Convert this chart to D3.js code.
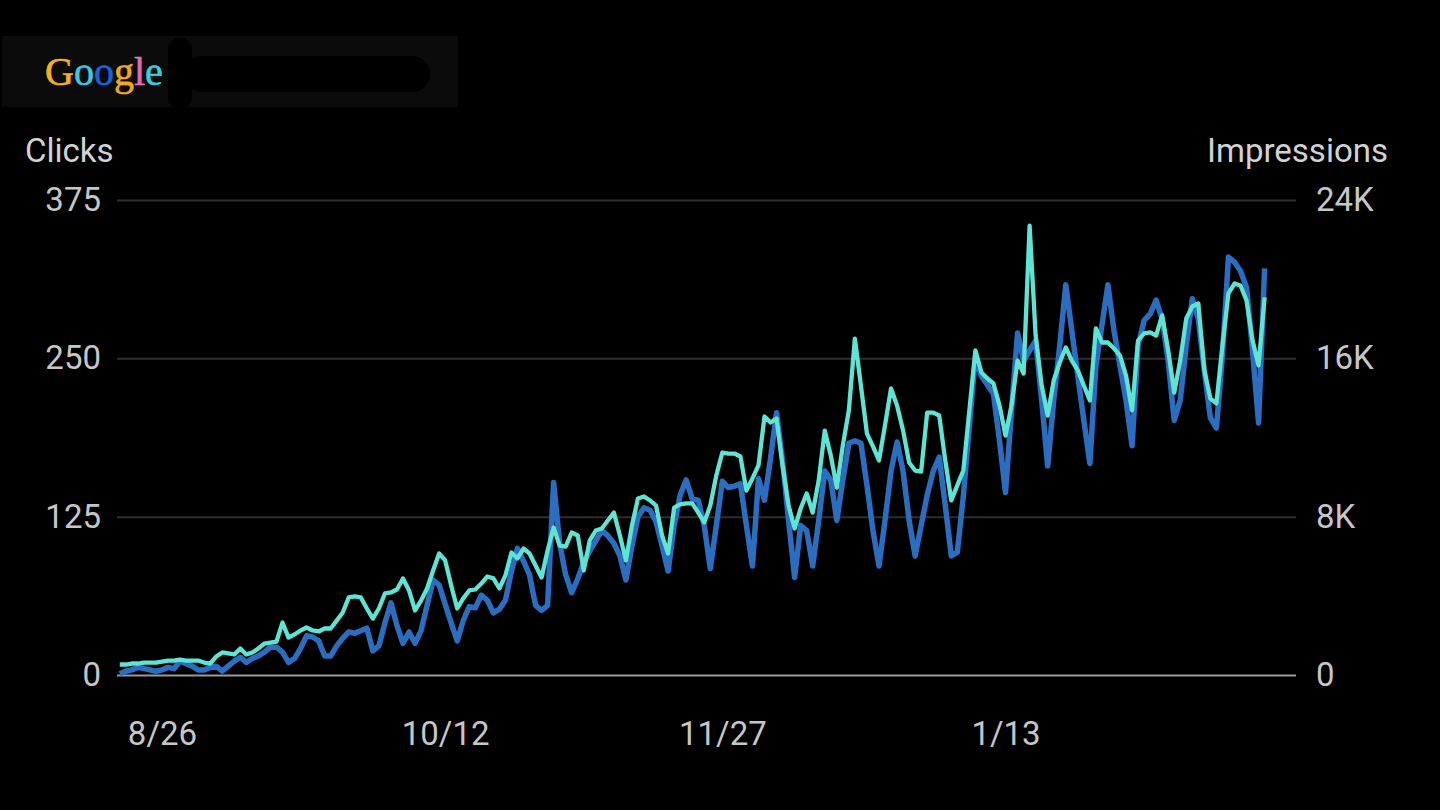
<!DOCTYPE html>
<html><head><meta charset="utf-8">
<script src="https://cdn.jsdelivr.net/npm/d3@7"></script>
<style>html,body{margin:0;padding:0;background:#000;overflow:hidden}</style>
</head><body><svg id="c" width="1440" height="810"></svg>
<script>
const startDate = "2017-08-19";
const clicks = [
1,3,4,6,5,4,3,4,6,5,
11,9,7,4,4,6,7,3,7,11,
14,10,13,15,18,22,22,18,10,13,
21,31,30,27,15,15,23,29,34,33,
35,37,19,23,41,57,39,25,34,25,
35,55,75,71,56,41,27,43,54,53,
63,59,49,52,59,82,100,90,79,55,
51,55,152,104,79,65,76,89,98,106,
114,110,104,94,75,102,125,132,130,121,
102,82,118,142,154,139,138,118,84,118,
153,148,149,151,118,86,155,138,171,207,
169,122,77,118,114,86,122,161,154,122,
154,183,185,183,150,114,86,122,161,184,
161,122,94,118,142,161,172,134,94,97,
141,197,251,236,229,222,185,144,209,270,
248,256,264,217,165,217,260,308,272,236,
201,167,244,276,308,272,244,217,181,260,
280,285,296,281,248,201,217,260,297,281,
240,203,195,252,330,326,319,306,256,199,
321];
const impressions = [
530,530,580,580,630,630,630,680,730,730,
780,730,730,730,630,580,930,1140,1090,1040,
1340,1040,1140,1340,1590,1640,1690,2650,1890,2050,
2250,2400,2250,2200,2350,2350,2750,3160,3920,3970,
3920,3360,2850,3360,4120,4170,4320,4880,4270,3260,
3760,4370,5280,6140,5790,4520,3360,3870,4270,4320,
4620,4980,4880,4370,5030,6190,5890,6390,6140,5530,
4930,6290,7450,6540,6490,7200,7050,5280,6800,7300,
7400,7810,8210,7050,5790,7550,8920,9020,8820,8560,
7050,6140,8460,8620,8670,8670,8210,7710,8560,10080,
11240,11190,11190,11040,9320,9930,10590,13060,12760,12960,
10590,8560,7400,8410,9170,8210,9830,12350,11090,9470,
11600,13370,17000,14630,12200,11550,10840,12610,14480,13620,
12350,10740,10330,10280,13260,13260,13110,10840,8820,9580,
10330,13370,16400,15290,14980,14730,13620,12100,13620,15890,
15230,22710,17150,14630,13110,14880,15790,16550,15890,15390,
14630,13870,17510,16800,16800,16500,16140,15130,13370,16900,
17260,17310,17150,18170,16400,14270,15890,18010,18620,18770,
15390,13970,13720,16650,19280,19780,19680,18920,16900,15640,
19080];
const clickTicks = [0, 125, 250, 375];
const impressionTicks = [0, 8000, 16000, 24000];
const impressionTickLabels = ["0", "8K", "16K", "24K"];
const dateTicks = ["2017-08-26", "2017-10-12", "2017-11-27", "2018-01-13"];
const dateTickLabels = ["8/26", "10/12", "11/27", "1/13"];
const logoLetters = ["G", "o", "o", "g", "l", "e"];
const logoColors = ["#f4b21c", "#3cc8e2", "#1b62de", "#f2a91a", "#e36bb0", "#3ccde0"];

const parse = d3.utcParse("%Y-%m-%d");
const t0 = parse(startDate);
const dates = clicks.map((_, i) => d3.utcDay.offset(t0, i));

const svg = d3.select("#c");
const L = 117, R = 1296, T = 200, B = 675;
const FONT = "Roboto, 'Noto Sans', sans-serif";

const x = d3.scaleUtc().domain([t0, dates[dates.length - 1]]).range([119.8, 1264.6]);
const y = d3.scaleLinear().domain([0, 375]).range([B, T]);
const yR = d3.scaleLinear().domain([0, 24000]).range([B, T]);

svg.append("rect").attr("width", 1440).attr("height", 810).attr("fill", "#000");

// header box with logo
const hdr = svg.append("g");
hdr.append("rect").attr("x", 2).attr("y", 36).attr("width", 456).attr("height", 71).attr("fill", "#0b0b0b");
hdr.append("rect").attr("x", 168).attr("y", 38).attr("width", 24).attr("height", 70).attr("rx", 11).attr("fill", "#000");
hdr.append("rect").attr("x", 184).attr("y", 56).attr("width", 246).attr("height", 36).attr("rx", 18).attr("fill", "#000");
const logo = hdr.append("text").attr("x", 45).attr("y", 85)
  .attr("font-family", "'Liberation Serif', 'DejaVu Serif', serif").attr("font-size", 40);
logo.selectAll("tspan").data(logoLetters).join("tspan")
  .text(d => d).attr("fill", (d, i) => logoColors[i])
  .attr("stroke", (d, i) => logoColors[i]).attr("stroke-width", 0.6);

// titles
svg.append("text").attr("x", 25).attr("y", 162).text("Clicks")
  .attr("font-family", FONT).attr("font-size", 33).attr("fill", "#d2d2d2");
svg.append("text").attr("x", 1388).attr("y", 162).attr("text-anchor", "end").text("Impressions")
  .attr("font-family", FONT).attr("font-size", 33).attr("fill", "#d2d2d2");

// left axis + grid
const gl = svg.append("g").attr("transform", `translate(${L},0)`)
  .call(d3.axisLeft(y).tickValues(clickTicks).tickSize(-(R - L)).tickPadding(16));
gl.select(".domain").remove();
gl.selectAll(".tick line").attr("stroke", d => d === 0 ? "#9a9a9a" : "#2e2e2e").attr("stroke-width", 2);
gl.selectAll(".tick text").attr("font-family", FONT).attr("font-size", 33).attr("fill", "#c6c6c6");

// right axis
const gr = svg.append("g").attr("transform", `translate(${R},0)`)
  .call(d3.axisRight(yR).tickValues(impressionTicks).tickFormat((d, i) => impressionTickLabels[i]).tickSize(0).tickPadding(20));
gr.select(".domain").remove();
gr.selectAll(".tick text").attr("font-family", FONT).attr("font-size", 33).attr("fill", "#c6c6c6");

// bottom axis
const gb = svg.append("g").attr("transform", `translate(0,${B})`)
  .call(d3.axisBottom(x).tickValues(dateTicks.map(parse)).tickFormat((d, i) => dateTickLabels[i]).tickSize(0).tickPadding(47));
gb.select(".domain").remove();
gb.selectAll(".tick text").attr("font-family", FONT).attr("font-size", 33).attr("fill", "#c6c6c6");

// lines
const lineC = d3.line().x((d, i) => x(dates[i])).y(d => y(d));
const lineI = d3.line().x((d, i) => x(dates[i])).y(d => yR(d));
svg.append("path").datum(clicks).attr("d", lineC).attr("fill", "none")
  .attr("stroke", "#2b6dbf").attr("stroke-width", 5.5).attr("stroke-linejoin", "round");
svg.append("path").datum(impressions).attr("d", lineI).attr("fill", "none")
  .attr("stroke", "#5fe3d3").attr("stroke-width", 4.3).attr("stroke-linejoin", "round");
</script></body></html>
